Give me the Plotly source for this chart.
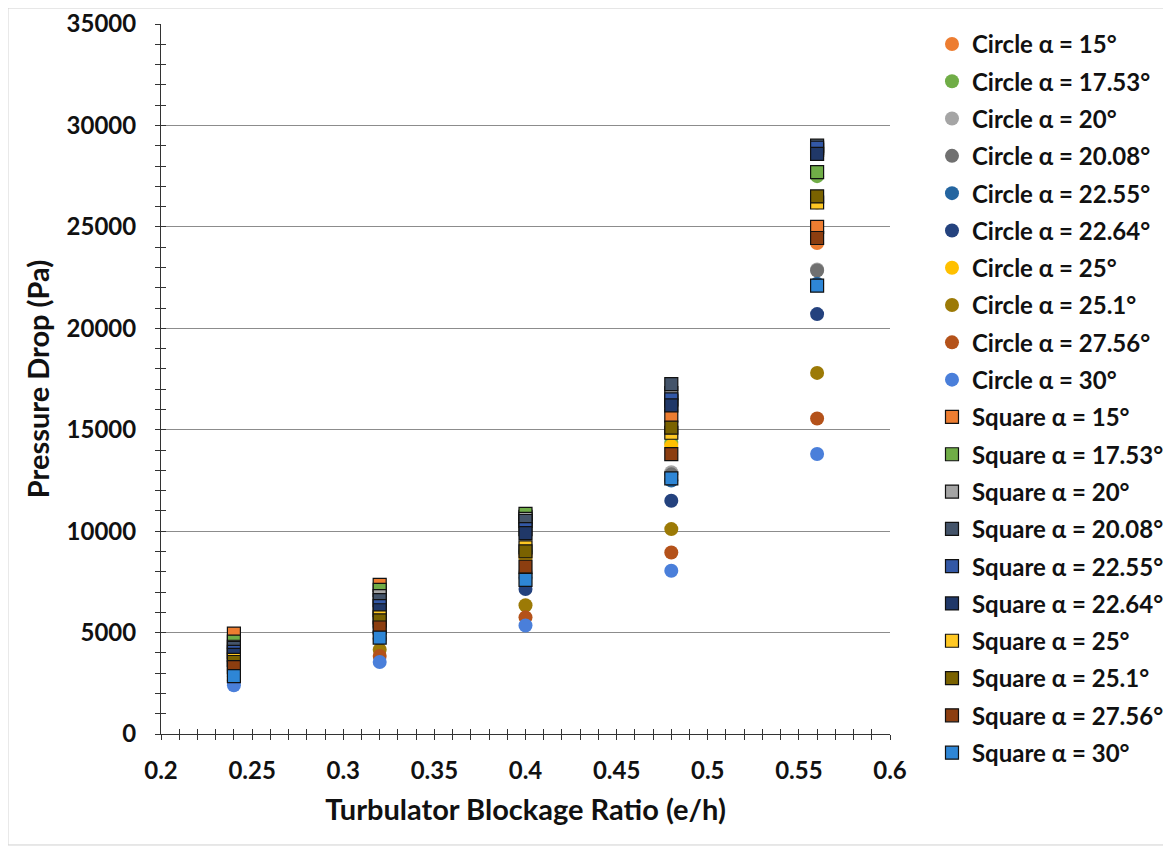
import plotly.graph_objects as go

blockage = [0.24, 0.32, 0.40, 0.48, 0.56]

circle_names = ["Circle α = 15°", "Circle α = 17.53°", "Circle α = 20°", "Circle α = 20.08°",
                "Circle α = 22.55°", "Circle α = 22.64°", "Circle α = 25°", "Circle α = 25.1°",
                "Circle α = 27.56°", "Circle α = 30°"]
square_names = ["Square α = 15°", "Square α = 17.53°", "Square α = 20°", "Square α = 20.08°",
                "Square α = 22.55°", "Square α = 22.64°", "Square α = 25°", "Square α = 25.1°",
                "Square α = 27.56°", "Square α = 30°"]

circle_15 = [3900, 5800, 8800, 14300, 24200]
circle_17_53 = [4000, 5900, 9000, 14400, 27500]
circle_20 = [3550, 5250, 8000, 12900, 22900]
circle_20_08 = [3500, 5200, 7900, 12800, 22850]
circle_22_55 = [3350, 5000, 7700, 12500, 22200]
circle_22_64 = [3150, 4700, 7150, 11500, 20700]
circle_25 = [3800, 5700, 8700, 14200, 26200]
circle_25_1 = [2850, 4150, 6350, 10100, 17800]
circle_27_56 = [2650, 3850, 5750, 8950, 15550]
circle_30 = [2400, 3550, 5350, 8050, 13800]

square_15 = [4950, 7350, 10700, 15700, 25000]
square_17_53 = [4550, 7100, 10850, 16400, 27700]
square_20 = [4300, 6800, 10600, 16800, 28800]
square_20_08 = [4250, 6600, 10500, 17250, 29000]
square_22_55 = [4050, 6300, 10100, 16500, 28900]
square_22_64 = [3900, 6100, 9900, 16200, 28600]
square_25 = [3650, 5750, 9200, 14850, 26200]
square_25_1 = [3550, 5600, 9000, 15100, 26500]
square_27_56 = [3300, 5250, 8250, 13800, 24450]
square_30 = [2850, 4750, 7600, 12600, 22100]

circle_values = [circle_15, circle_17_53, circle_20, circle_20_08, circle_22_55,
                 circle_22_64, circle_25, circle_25_1, circle_27_56, circle_30]
square_values = [square_15, square_17_53, square_20, square_20_08, square_22_55,
                 square_22_64, square_25, square_25_1, square_27_56, square_30]

circle_colors = ["#ED7D31", "#70AD47", "#A5A5A5", "#707070", "#2465A0",
                 "#24427E", "#FFC000", "#9C7A06", "#B4521A", "#4A7FDA"]
square_colors = ["#ED7D31", "#70AD47", "#A5A5A5", "#44546A", "#3358A6",
                 "#203868", "#FFC823", "#7A6200", "#8C3E10", "#2E86D6"]

FONT = "Lato"
INK = "#111111"

fig = go.Figure()
for i, (name, vals) in enumerate(zip(circle_names, circle_values)):
    fig.add_trace(go.Scatter(
        x=blockage, y=vals, mode="markers", name=name, legendgroup=name,
        marker=dict(symbol="circle", size=14, color=circle_colors[i], line=dict(width=0)),
    ))
for i, (name, vals) in enumerate(zip(square_names, square_values)):
    fig.add_trace(go.Scatter(
        x=blockage, y=vals, mode="markers", name=name, legendgroup=name,
        marker=dict(symbol="square", size=13, color=square_colors[i],
                    line=dict(width=1.2, color=INK)),
    ))

# overlay axes used only to draw the inward half of the crossing tick marks
fig.add_trace(go.Scatter(x=[], y=[], xaxis="x2", yaxis="y2", showlegend=False, hoverinfo="skip"))

tickfont = dict(family=FONT, size=24, color=INK, weight="bold")
titlefont = dict(family=FONT, size=29, color=INK, weight="bold")

fig.update_layout(
    width=1171, height=849,
    paper_bgcolor="white", plot_bgcolor="white",
    margin=dict(l=153, r=289, t=16, b=123, autoexpand=False),
    font=dict(family=FONT, color=INK),
    showlegend=True,
    legend=dict(
        x=1.0576, y=1.003, xanchor="left", yanchor="top",
        traceorder="grouped", tracegroupgap=3.1, maxheight=900,
        font=dict(family=FONT, size=24, color=INK, weight="bold"),
        itemwidth=30, bgcolor="rgba(0,0,0,0)",
    ),
    xaxis=dict(
        range=[0.2, 0.6], dtick=0.05, tick0=0.2, tickformat="~g", automargin=False,
        showgrid=False, zeroline=False,
        showline=True, linecolor="#333333", linewidth=1,
        ticks="outside", ticklen=5, tickcolor="#333333",
        minor=dict(dtick=0.01, ticks="outside", ticklen=5, tickcolor="#333333"),
        tickfont=tickfont, ticklabelstandoff=10,
        title=dict(text="Turbulator Blockage Ratio (e/h)", font=titlefont, standoff=16),
    ),
    yaxis=dict(
        range=[0, 35000], dtick=5000, tick0=0, tickformat="d", automargin=False,
        showgrid=True, gridcolor="#8C8C8C", gridwidth=1, zeroline=False,
        showline=True, linecolor="#333333", linewidth=1,
        ticks="outside", ticklen=5, tickcolor="#333333",
        minor=dict(dtick=1000, ticks="outside", ticklen=5, tickcolor="#333333", showgrid=False),
        tickfont=tickfont, ticklabelstandoff=14,
        title=dict(text="Pressure Drop (Pa)", font=titlefont, standoff=8),
    ),
    xaxis2=dict(
        overlaying="x", anchor="y2", range=[0.2, 0.6], dtick=0.01, tick0=0.2, automargin=False,
        showgrid=False, zeroline=False, showticklabels=False, showline=False,
        ticks="inside", ticklen=5, tickcolor="#333333", side="bottom",
    ),
    yaxis2=dict(
        overlaying="y", anchor="x2", range=[0, 35000], dtick=1000, tick0=0, automargin=False,
        showgrid=False, zeroline=False, showticklabels=False, showline=False,
        ticks="inside", ticklen=5, tickcolor="#333333", side="left",
    ),
    shapes=[dict(type="rect", xref="paper", yref="paper",
                 x0=-0.2099, x1=1.3813, y0=-0.1563, y1=1.0225,
                 line=dict(color="#D0D0D0", width=1), fillcolor="rgba(0,0,0,0)", layer="below")],
)

fig.write_html("out.html")
